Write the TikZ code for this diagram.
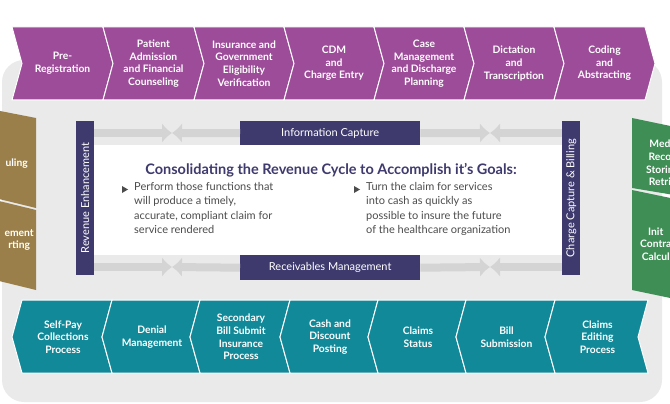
\documentclass[tikz,border=0pt]{standalone}
\usepackage{fontspec}
\setmainfont{Lato}
\usetikzlibrary{calc, positioning, arrows.meta}
\definecolor{plum}{RGB}{156, 76, 152}
\definecolor{tealblue}{RGB}{18, 137, 152}
\definecolor{gold}{RGB}{155, 127, 74}
\definecolor{leaf}{RGB}{62, 142, 85}
\definecolor{navy}{RGB}{62, 58, 110}
\definecolor{loopgray}{RGB}{234, 234, 234}
\definecolor{arrowgray}{RGB}{212, 212, 212}
\tikzset{
    steptext/.style = {text=white, font=\bfseries\fontsize{10.3}{12.6}\selectfont, align=center, inner sep=0em},
    sidetext/.style = {text=white, font=\bfseries\fontsize{10.3}{12.6}\selectfont, align=center, inner sep=0em},
    barnode/.style = {fill=navy, text=white, font=\fontsize{11}{13}\selectfont, inner sep=0em},
    bartext/.style = {text=white, font=\fontsize{11}{13}\selectfont, rotate=90},
    bullettext/.style = {text=black!70, font=\fontsize{11}{14.5}\selectfont, align=left, anchor=north west, inner sep=0em},
    flow/.style = {draw=arrowgray, line width=8pt, -{Latex[length=10pt,width=20pt]}}
}
\begin{document}
\begin{tikzpicture}[x=1pt, y=-1pt]
\useasboundingbox (0,0) rectangle (670,404);
\clip (0,0) rectangle (670,404);

% gray loop behind everything
\fill[loopgray, rounded corners=22pt] (2,60) rectangle (662,402);

% side panels
\fill[gold] (-5,110) -- (36,118) -- (36,208) -- (-5,198) -- cycle;
\fill[gold] (-5,200) -- (36,210) -- (36,290) -- (-5,280) -- cycle;
\node[sidetext, anchor=east] (sched) at (28,164) {uling};
\node[sidetext, anchor=east] (mgmt) at (34,240) {ement\\rting};
\fill[leaf] (632,118) -- (680,128) -- (680,196) -- (632,188) -- cycle;
\fill[leaf] (632,190) -- (680,200) -- (680,300) -- (632,290) -- cycle;
\node[sidetext, anchor=west] (records) at (646,163) {Med\\Reco\\Storin\\Retri};
\node[sidetext, anchor=west] (contract) at (640,244) {Init\\Contra\\Calcul};

% top chevrons
\foreach \a/\b/\txt [count=\i] in {12/103/{Pre-\\Registration}, 103/194/{Patient\\Admission\\and Financial\\Counseling},
    194/284/{Insurance and\\Government\\Eligibility\\Verification}, 284/374/{CDM\\and\\Charge Entry},
    374/464/{Case\\Management\\and Discharge\\Planning}, 464/554/{Dictation\\and\\Transcription},
    554/645/{Coding\\and\\Abstracting}} {
  \fill[plum, draw=white, line width=1pt] (\a,27) -- (\b,27) -- (\b+10,63.5) -- (\b,100) -- (\a,100) -- (\a+10,63.5) -- cycle;
  \node[steptext] (top\i) at ({(\a+\b)/2+5},63.5) {\txt};
}

% bottom chevrons
\foreach \a/\b/\txt [count=\i] in {22/112/{Self-Pay\\Collections\\Process}, 112/200/{Denial\\Management},
    200/290/{Secondary\\Bill Submit\\Insurance\\Process}, 290/378/{Cash and\\Discount\\Posting},
    378/466/{Claims\\Status}, 466/555/{Bill\\Submission}, 555/648/{Claims\\Editing\\Process}} {
  \fill[tealblue, draw=white, line width=1pt] (\a,300) -- (\b,300) -- (\b-10,337) -- (\b,373) -- (\a,373) -- (\a-10,337) -- cycle;
  \node[steptext] (bot\i) at ({(\a+\b)/2-4},337) {\txt};
}

% centre panel and bars
\fill[white] (94,145) rectangle (562,255);
\node[barnode, minimum width=18pt, minimum height=154pt, anchor=north west] (enh) at (76,121) {};
\node[bartext] at (enh.center) {Revenue Enhancement};
\node[barnode, minimum width=18pt, minimum height=154pt, anchor=north west] (charge) at (562,121) {};
\node[bartext] at (charge.center) {Charge Capture \& Billing};
\node[barnode, minimum width=180pt, minimum height=24pt, anchor=north west] (info) at (240,121) {Information Capture};
\node[barnode, minimum width=180pt, minimum height=25pt, anchor=north west] (recv) at (240,255) {Receivables Management};

% converging arrows
\coordinate (m1) at (172,133);
\coordinate (m2) at (490,133);
\coordinate (m3) at (172,267);
\coordinate (m4) at (490,267);
\draw[flow] (enh.east |- m1) -- (m1);
\draw[flow] (info.west) -- (m1);
\draw[flow] (info.east) -- (m2);
\draw[flow] (charge.west |- m2) -- (m2);
\draw[flow] (enh.east |- m3) -- (m3);
\draw[flow] (recv.west) -- (m3);
\draw[flow] (recv.east) -- (m4);
\draw[flow] (charge.west |- m4) -- (m4);

% goals
\node[text=navy, font=\bfseries\fontsize{14.5}{17}\selectfont, inner sep=0em] (title) at (331,170) {Consolidating the Revenue Cycle to Accomplish it’s Goals:};
\node[bullettext] (goal1) at (134,182) {Perform those functions that\\will produce a timely,\\accurate, compliant claim for\\service rendered};
\node[bullettext] (goal2) at (366,182) {Turn the claim for services\\into cash as quickly as\\possible to insure the future\\of the healthcare organization};
\fill[black!70] (122,186) -- (128,189.5) -- (122,193) -- cycle;
\fill[black!70] (354,186) -- (360,189.5) -- (354,193) -- cycle;
\end{tikzpicture}
\end{document}
